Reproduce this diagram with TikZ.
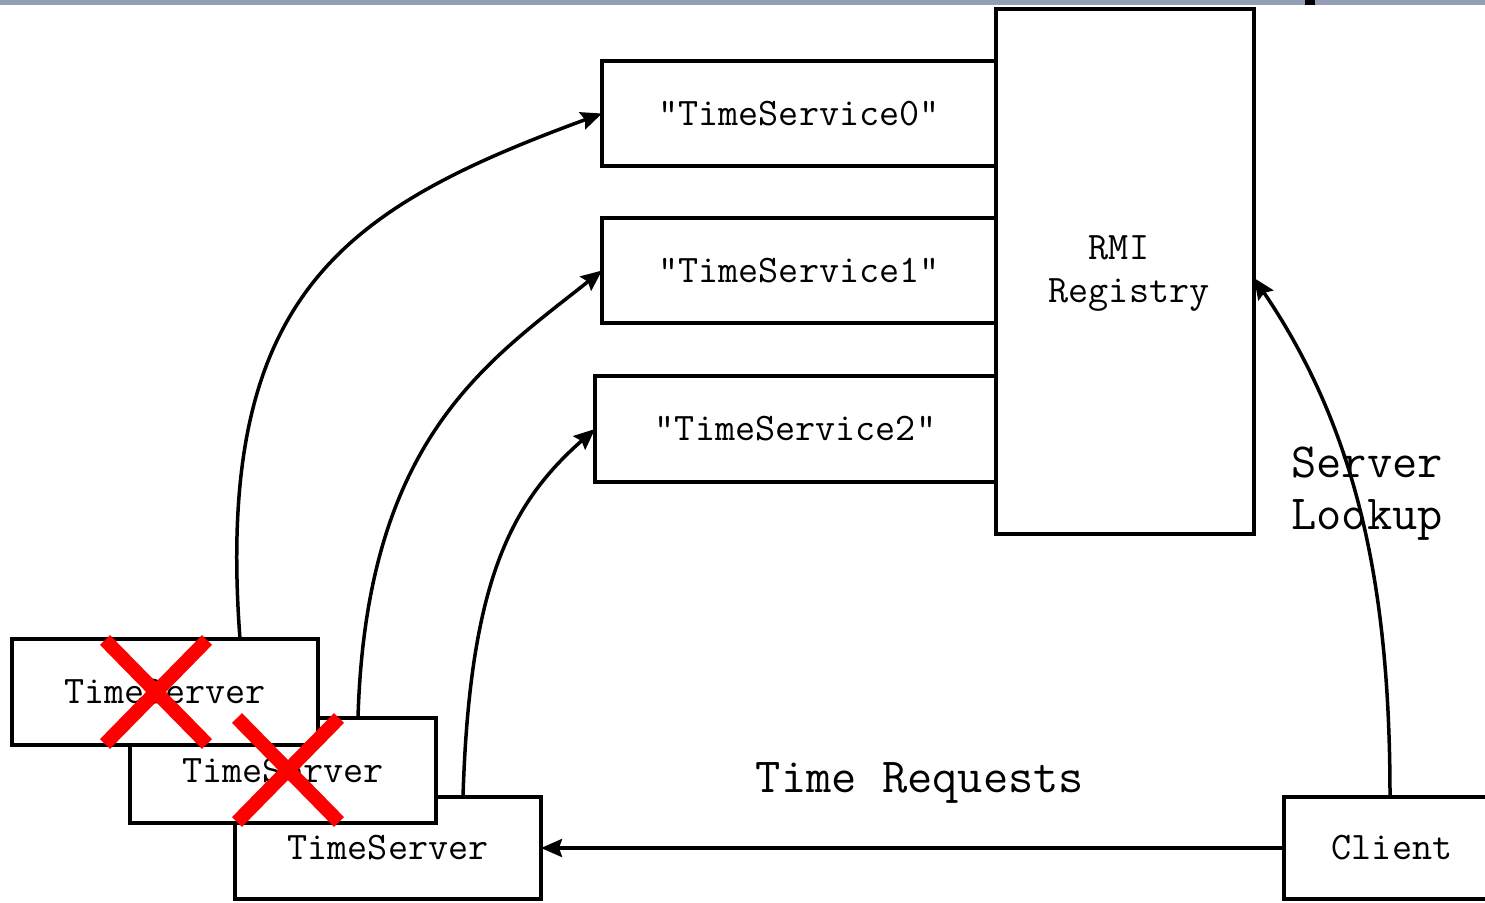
\documentclass[tikz,border=0pt]{standalone}
\usepackage{fontspec}
\usetikzlibrary{arrows.meta}
\definecolor{barblue}{RGB}{148,157,182}
\tikzset{
  boxfont/.style={font=\ttfamily\fontsize{39}{43}\selectfont},
  box/.style={draw=black, line width=4pt, fill=white, inner sep=0pt, outer sep=0pt, boxfont},
  conn/.style={draw=black, line width=3.5pt, -{Stealth[length=21pt,width=18pt,inset=3pt]}},
  biglabel/.style={font=\ttfamily\fontsize{49}{52}\selectfont, inner sep=0pt, align=left},
  crossline/.style={draw=red, line width=14pt}
}
\begin{document}
\begin{tikzpicture}[x=1pt,y=-1pt]
\useasboundingbox (0,0) rectangle (1485,902);
\fill[white] (0,0) rectangle (1485,902);
% top bar
\fill[barblue] (0,0) rectangle (1485,5);
\fill[black] (1305,0) rectangle (1315,5);
% registry and service entries
\node[box, minimum width=258pt, minimum height=525pt] (rmi) at (1125,271.5) {};
\node[boxfont, align=center, inner sep=0pt] (rmitext) at (1129,274) {RMI\hphantom{x}\\Registry};
\node[box, minimum width=394pt, minimum height=105pt] (ts0) at (799,113.5) {"TimeService0"};
\node[box, minimum width=394pt, minimum height=105pt] (ts1) at (799,270.5) {"TimeService1"};
\node[box, minimum width=401pt, minimum height=106pt] (ts2) at (795.5,429) {"TimeService2"};
% servers (back to front)
\node[box, minimum width=306pt, minimum height=102pt] (srvC) at (388,848) {TimeServer};
\node[box, minimum width=306pt, minimum height=105pt] (srvB) at (283,770.5) {TimeServer};
\node[box, minimum width=306pt, minimum height=106pt] (srvA) at (165,692) {TimeServer};
\node[box, minimum width=216pt, minimum height=102pt] (client) at (1392,848) {Client};
% connectors
\draw[conn] ([xshift=75pt]srvA.north) .. controls +(-26,-346) and +(-257,94.5) .. (ts0.west);
\draw[conn] ([xshift=75pt]srvB.north) .. controls +(8,-279) and +(-115,91.5) .. (ts1.west);
\draw[conn] ([xshift=75pt]srvC.north) .. controls +(6.5,-215.5) and +(-84,74) .. (ts2.west);
\draw[conn] ([xshift=-2pt]client.north) .. controls +(0,-203) and +(106,156) .. ([yshift=-6.5pt]rmi.east);
\draw[conn] (client.west) -- (srvC.east);
% labels
\node[biglabel] (treq) at (920,783) {Time Requests};
\node[biglabel] (lookup) at (1367,494) {Server\\Lookup};
% crosses
\coordinate (xa) at (156,692);
\coordinate (xb) at (288,770);
\draw[crossline] (xa) ++(-51,-52) -- ++(102,104);
\draw[crossline] (xa) ++(51,-52) -- ++(-102,104);
\draw[crossline] (xb) ++(-51,-52) -- ++(102,104);
\draw[crossline] (xb) ++(51,-52) -- ++(-102,104);
\end{tikzpicture}
\end{document}
